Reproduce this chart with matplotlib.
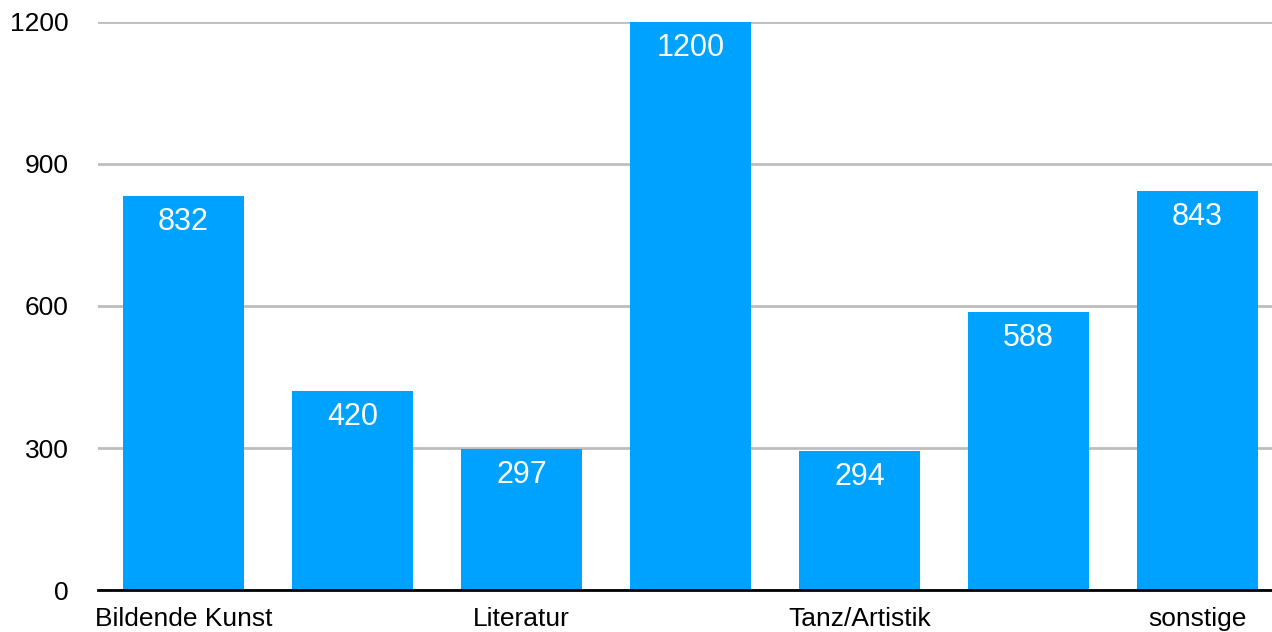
import matplotlib.pyplot as plt

# data
categories = ['Bildende Kunst', '', 'Literatur', '', 'Tanz/Artistik', '', 'sonstige']
values = [832, 420, 297, 1200, 294, 588, 843]
yticks = [0, 300, 600, 900, 1200]

plt.rcParams['font.family'] = ['Liberation Sans', 'DejaVu Sans']

fig = plt.figure(figsize=(12.72, 6.32), dpi=100)
ax = fig.add_axes([98 / 1272, 42 / 632, (1272 - 98) / 1272, 568 / 632])

x = list(range(len(values)))
bars = ax.bar(x, values, width=0.715, color='#00A2FF', zorder=3)

px = 1200 / 568
for xi, v in zip(x, values):
    ax.text(xi, v - 26 * px, str(v), ha='center', va='center',
            color='white', fontsize=22, zorder=4)

ax.set_xlim(-0.505, 6.44)
ax.set_ylim(0, 1200)
ax.set_yticks(yticks)
ax.set_yticklabels([str(t) for t in yticks], fontsize=19)
ax.set_xticks(x)
ax.set_xticklabels(categories, fontsize=19)
ax.tick_params(axis='both', length=0)
ax.tick_params(axis='y', pad=21)
ax.tick_params(axis='x', pad=12)

ax.yaxis.grid(True, color='#BDBDBD', linewidth=2, zorder=0)
for s in ['top', 'right', 'left']:
    ax.spines[s].set_visible(False)
ax.spines['bottom'].set_linewidth(2)
ax.spines['bottom'].set_color('black')
ax.spines['bottom'].set_zorder(5)

fig.savefig('out.png', dpi=100)
